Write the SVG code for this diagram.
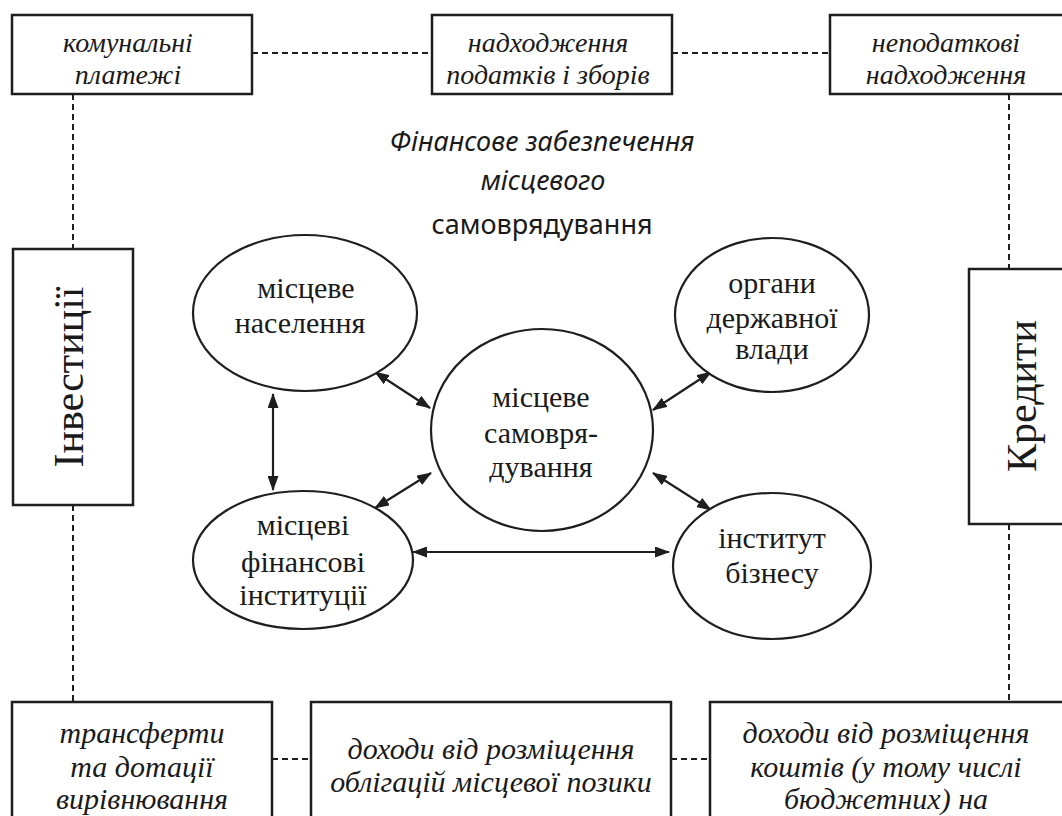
<svg xmlns="http://www.w3.org/2000/svg" width="1062" height="816" viewBox="0 0 1062 816">
<style>
.box{fill:#fff;stroke:#1e1e1e;stroke-width:2.5}
.ell{fill:#fff;stroke:#1e1e1e;stroke-width:2.2}
.dash{fill:none;stroke:#1e1e1e;stroke-width:2;stroke-dasharray:6 4}
.arr{fill:none;stroke:#1e1e1e;stroke-width:2.2;marker-start:url(#ah);marker-end:url(#ah)}
.ti{font-family:"Liberation Serif",serif;font-style:italic;font-size:28px;fill:#1a1a1a;text-anchor:middle}
.bi{font-family:"Liberation Serif",serif;font-style:italic;font-size:30px;fill:#1a1a1a;text-anchor:middle}
.et{font-family:"Liberation Serif",serif;font-size:30px;fill:#1a1a1a;text-anchor:middle}
.big{font-family:"Liberation Serif",serif;font-size:42px;fill:#1a1a1a;text-anchor:middle}
.hd{font-family:"Noto Sans",sans-serif;font-size:27px;fill:#1a1a1a;text-anchor:middle}
</style>
<defs>
<marker id="ah" viewBox="0 0 15 11" refX="14" refY="5.5" markerWidth="15" markerHeight="11" markerUnits="userSpaceOnUse" orient="auto-start-reverse">
<path d="M0,0 L15,5.5 L0,11 Z" fill="#1e1e1e"/>
</marker>
</defs>
<rect width="1062" height="816" fill="#fff"/>
<g id="connectors">
<line class="dash" x1="252" y1="53" x2="432" y2="53"/>
<line class="dash" x1="672" y1="53" x2="830" y2="53"/>
<line class="dash" x1="73" y1="94" x2="73" y2="249"/>
<line class="dash" x1="73" y1="505" x2="73" y2="702"/>
<line class="dash" x1="1009" y1="94" x2="1009" y2="269"/>
<line class="dash" x1="1009" y1="524" x2="1009" y2="702"/>
<line class="dash" x1="272" y1="759" x2="311" y2="759"/>
<line class="dash" x1="671" y1="759" x2="710" y2="759"/>
<line class="arr" x1="273" y1="394" x2="273" y2="490"/>
<line class="arr" x1="375" y1="372" x2="430" y2="408"/>
<line class="arr" x1="375" y1="508" x2="431" y2="473"/>
<line class="arr" x1="413" y1="552" x2="669" y2="552"/>
<line class="arr" x1="653" y1="410" x2="711" y2="372"/>
<line class="arr" x1="653" y1="473" x2="711" y2="510"/>
</g>
<g id="title">
<text class="hd" x="542" y="151" font-style="italic">Фінансове забезпечення</text>
<text class="hd" x="543" y="190" font-style="italic">місцевого</text>
<text class="hd" x="542" y="234" font-size="23">самоврядування</text>
</g>
<g id="n-komunalni">
<rect class="box" x="12" y="15" width="240" height="79"/>
<text class="ti" x="128" y="52">комунальні</text>
<text class="ti" x="128" y="84">платежі</text>
</g>
<g id="n-podatky">
<rect class="box" x="432" y="15" width="240" height="79"/>
<text class="ti" x="548" y="52">надходження</text>
<text class="ti" x="548" y="84">податків і зборів</text>
</g>
<g id="n-nepodatkovi">
<rect class="box" x="830" y="15" width="240" height="79"/>
<text class="ti" x="946" y="52">неподаткові</text>
<text class="ti" x="946" y="84">надходження</text>
</g>
<g id="n-investytsii">
<rect class="box" x="13" y="249" width="120" height="256"/>
<text class="big" transform="translate(83,377) rotate(-90)">Інвестиції</text>
</g>
<g id="n-kredyty">
<rect class="box" x="969" y="269" width="110" height="255"/>
<text class="big" transform="translate(1036,396) rotate(-90)">Кредити</text>
</g>
<g id="n-naselennia">
<ellipse class="ell" cx="305" cy="313" rx="112" ry="78"/>
<text class="et" x="306" y="298">місцеве</text>
<text class="et" x="300" y="333">населення</text>
</g>
<g id="n-samovriaduvannia">
<ellipse class="ell" cx="542" cy="430" rx="111" ry="101"/>
<text class="et" x="541" y="407">місцеве</text>
<text class="et" x="541" y="443">самовря-</text>
<text class="et" x="541" y="477">дування</text>
</g>
<g id="n-finansovi">
<ellipse class="ell" cx="303" cy="560" rx="110" ry="69"/>
<text class="et" x="303" y="535">місцеві</text>
<text class="et" x="303" y="572">фінансові</text>
<text class="et" x="303" y="605">інституції</text>
</g>
<g id="n-orhany">
<ellipse class="ell" cx="772" cy="315" rx="97" ry="77"/>
<text class="et" x="772" y="293">органи</text>
<text class="et" x="772" y="328">державної</text>
<text class="et" x="772" y="359">влади</text>
</g>
<g id="n-biznes">
<ellipse class="ell" cx="772" cy="566" rx="99" ry="73"/>
<text class="et" x="772" y="548">інститут</text>
<text class="et" x="772" y="583">бізнесу</text>
</g>
<g id="n-transferty">
<rect class="box" x="12" y="702" width="260" height="130"/>
<text class="bi" x="142" y="743">трансферти</text>
<text class="bi" x="142" y="777">та дотації</text>
<text class="bi" x="142" y="809">вирівнювання</text>
</g>
<g id="n-oblihatsii">
<rect class="box" x="311" y="702" width="360" height="130"/>
<text class="bi" x="491" y="759">доходи від розміщення</text>
<text class="bi" x="491" y="792">облігацій місцевої позики</text>
</g>
<g id="n-koshty">
<rect class="box" x="710" y="702" width="360" height="130"/>
<text class="bi" x="886" y="743">доходи від розміщення</text>
<text class="bi" x="886" y="777">коштів (у тому числі</text>
<text class="bi" x="886" y="809">бюджетних) на</text>
</g>
</svg>
